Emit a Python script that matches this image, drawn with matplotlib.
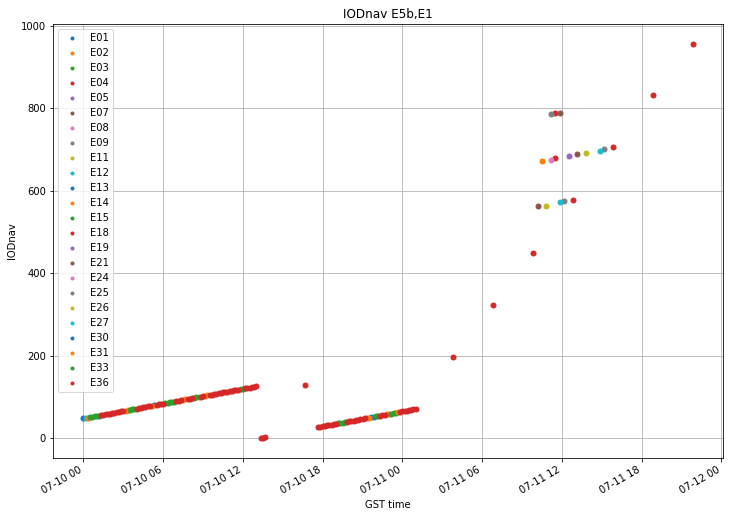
import pandas as pd
import matplotlib
matplotlib.use("Agg")
import matplotlib.pyplot as plt
import matplotlib.dates as mdates

# satellites in legend order
svs = ["E01", "E02", "E03", "E04", "E05", "E07", "E08", "E09", "E11", "E12",
       "E13", "E14", "E15", "E18", "E19", "E21", "E24", "E25", "E26", "E27",
       "E30", "E31", "E33", "E36"]

# first run of IODnav values, one every 10 minutes from 07-10 00:00
seg1_start = "2019-07-10 00:00"
seg1_iod = [48, 49, 50, 51, 52, 53, 54, 55, 56, 57, 58, 59, 60, 61, 62, 63,
            64, 65, 66, 67, 68, 69, 70, 71, 72, 73, 74, 75, 76, 77, 78, 79,
            80, 81, 82, 83, 84, 85, 86, 87, 88, 89, 90, 91, 92, 93, 94, 95,
            96, 97, 98, 99, 100, 101, 102, 103, 104, 105, 106, 107, 108, 109,
            110, 111, 112, 113, 114, 115, 116, 117, 118, 119, 120, 121, 122,
            123, 124, 125, 126]
# which satellite is seen on top along the run (satellite, number of points)
seg1_runs = [("E13", 1), ("E27", 1), ("E31", 1), ("E33", 4), ("E30", 1),
             ("E36", 11), ("E14", 2), ("E15", 3), ("E36", 7), ("E31", 1),
             ("E13", 1), ("E36", 4), ("E33", 5), ("E36", 3), ("E31", 2),
             ("E36", 3), ("E33", 2), ("E31", 1), ("E36", 2), ("E14", 2),
             ("E36", 14), ("E15", 2), ("E36", 6)]

# second run, from 07-10 17:40
seg2_start = "2019-07-10 17:40"
seg2_iod = [27, 28, 29, 30, 31, 32, 33, 34, 35, 36, 37, 38, 39, 40, 41, 42,
            43, 44, 45, 46, 47, 48, 49, 50, 51, 52, 53, 54, 55, 56, 57, 58,
            59, 60, 61, 62, 63, 64, 65, 66, 67, 68, 69, 70, 71]
seg2_runs = [("E36", 9), ("E33", 4), ("E36", 9), ("E31", 2), ("E30", 2),
             ("E33", 2), ("E36", 3), ("E14", 2), ("E15", 3), ("E31", 1),
             ("E36", 8)]

# scattered single points
extra_time = ["2019-07-10 13:20", "2019-07-10 13:30", "2019-07-10 13:40",
              "2019-07-10 16:40", "2019-07-11 03:50", "2019-07-11 06:50",
              "2019-07-11 09:50", "2019-07-11 10:10", "2019-07-11 10:50",
              "2019-07-11 11:50", "2019-07-11 12:10", "2019-07-11 12:50",
              "2019-07-11 10:30", "2019-07-11 11:10", "2019-07-11 11:30",
              "2019-07-11 12:30", "2019-07-11 13:10", "2019-07-11 13:50",
              "2019-07-11 14:50", "2019-07-11 15:10", "2019-07-11 15:50",
              "2019-07-11 11:10", "2019-07-11 11:30", "2019-07-11 11:50",
              "2019-07-11 18:50", "2019-07-11 21:50"]
extra_iod = [0, 1, 2, 128, 196, 322, 450, 562, 564, 572, 575, 577,
             671, 675, 678, 683, 688, 692, 697, 700, 705,
             785, 787, 789, 831, 956]
extra_sv = ["E36", "E36", "E36", "E36", "E36", "E36", "E36", "E21", "E26",
            "E27", "E25", "E36", "E31", "E24", "E18", "E19", "E07", "E11",
            "E12", "E09", "E36", "E09", "E04", "E21", "E36", "E36"]

rows = []
for start, iods, runs in [(seg1_start, seg1_iod, seg1_runs),
                          (seg2_start, seg2_iod, seg2_runs)]:
    times = pd.date_range(start, periods=len(iods), freq="10min")
    k = 0
    for sv, n in runs:
        for j in range(n):
            rows.append((times[k], iods[k], sv))
            k += 1
for t, v, sv in zip(extra_time, extra_iod, extra_sv):
    rows.append((pd.Timestamp(t), v, sv))
df = pd.DataFrame(rows, columns=["time", "iodnav", "sv"])

fig = plt.figure(figsize=(730 / 72, 517 / 72), dpi=72)
ax = fig.add_axes([53 / 730, 1 - 458 / 517, 670 / 730, 434 / 517])

for sv in svs:
    d = df[df["sv"] == sv]
    ax.plot(d["time"], d["iodnav"], ".", markersize=10, label=sv)

ax.set_title("IODnav E5b,E1")
ax.set_xlabel("GST time")
ax.set_ylabel("IODnav")
ax.grid(True)
ax.legend(loc="upper left", markerscale=0.6)

ax.xaxis.set_major_locator(mdates.HourLocator(byhour=[0, 6, 12, 18]))
ax.xaxis.set_major_formatter(mdates.DateFormatter("%m-%d %H"))
for lbl in ax.get_xticklabels():
    lbl.set_rotation(30)
    lbl.set_ha("right")

fig.savefig("out.png", dpi=72)
